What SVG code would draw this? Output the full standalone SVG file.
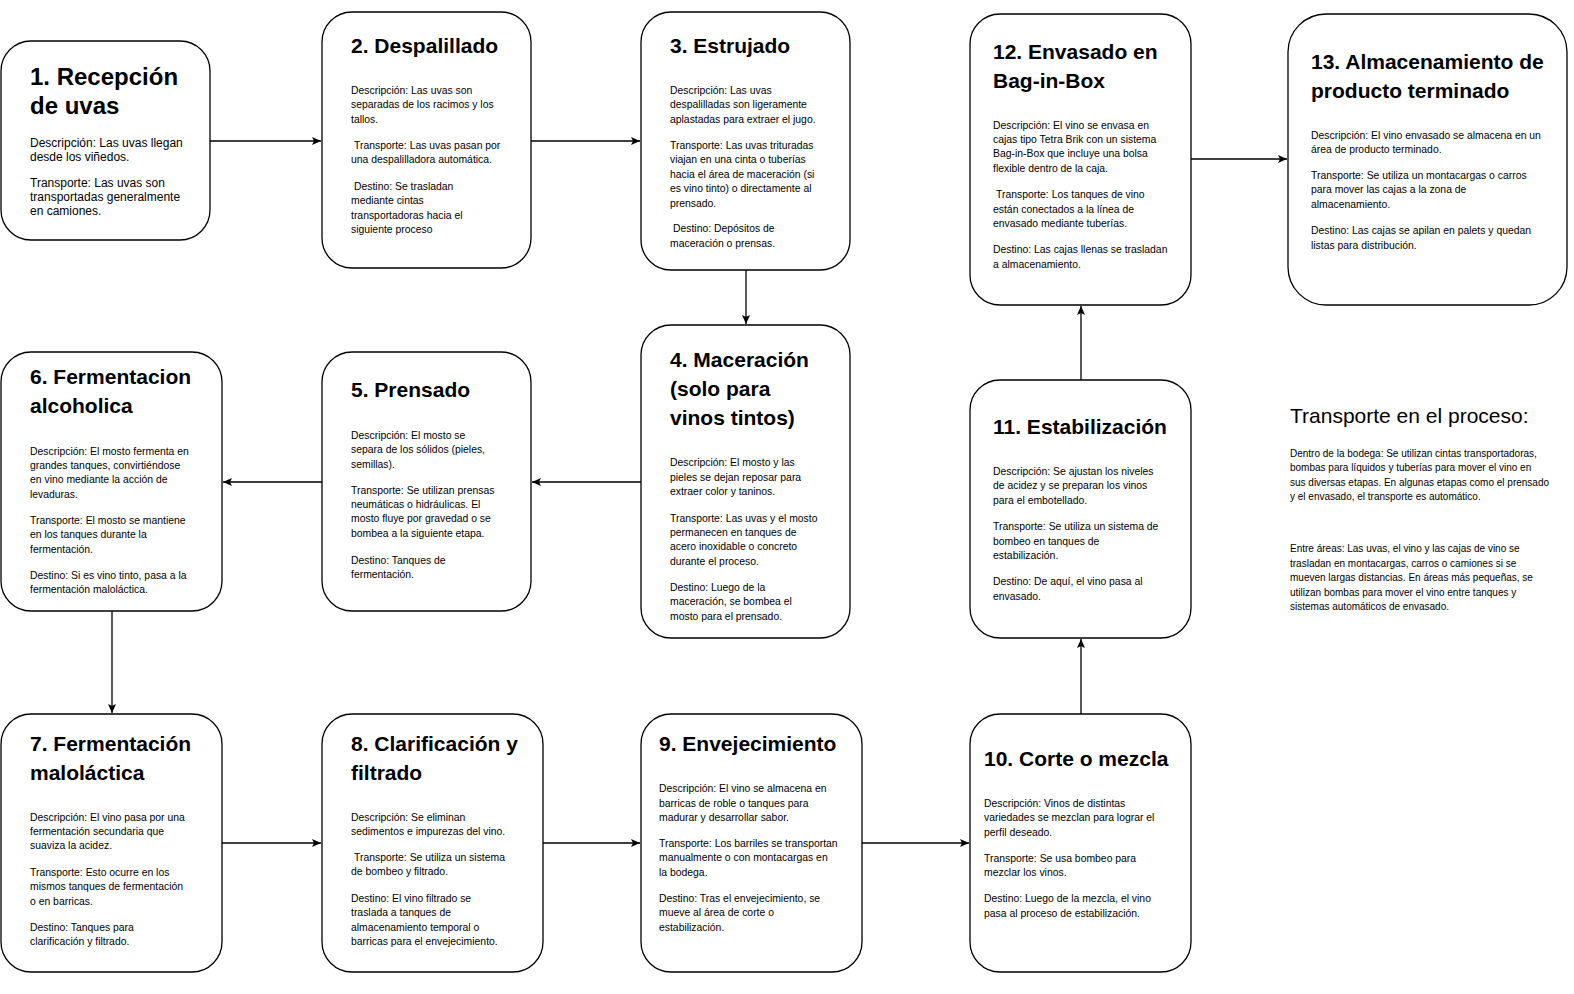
<svg xmlns="http://www.w3.org/2000/svg" width="1574" height="994" viewBox="0 0 1574 994">
<style>
.box{fill:#fff;stroke:#000;stroke-width:1.3}
.t{font-family:"Liberation Sans",Arial,sans-serif;font-weight:bold;font-size:21px;fill:#000}
.t1{font-family:"Liberation Sans",Arial,sans-serif;font-weight:bold;font-size:24px;fill:#000}
.b{font-family:"Liberation Sans",Arial,sans-serif;font-size:10.4px;fill:#000}
.n{font-family:"Liberation Sans",Arial,sans-serif;font-size:10px;fill:#000}
.b1{font-family:"Liberation Sans",Arial,sans-serif;font-size:12px;fill:#000}
.h{font-family:"Liberation Sans",Arial,sans-serif;font-size:21px;fill:#000}
.edge{fill:none;stroke:#000;stroke-width:1.3}
</style>
<defs>
<marker id="arr" markerWidth="10" markerHeight="8" refX="9" refY="4" orient="auto" markerUnits="userSpaceOnUse">
<path d="M0,0 L9,4 L0,8 L2,4 z" fill="#000"/>
</marker>
</defs>
<rect width="1574" height="994" fill="#fff"/>

<g id="connectors">
<path class="edge" d="M210,141 H321" marker-end="url(#arr)"/>
<path class="edge" d="M531,141 H640" marker-end="url(#arr)"/>
<path class="edge" d="M746,270 V324" marker-end="url(#arr)"/>
<path class="edge" d="M641,482 H532" marker-end="url(#arr)"/>
<path class="edge" d="M322,482 H223" marker-end="url(#arr)"/>
<path class="edge" d="M112,611 V713" marker-end="url(#arr)"/>
<path class="edge" d="M222,843 H321" marker-end="url(#arr)"/>
<path class="edge" d="M543,843 H640" marker-end="url(#arr)"/>
<path class="edge" d="M862,843 H969" marker-end="url(#arr)"/>
<path class="edge" d="M1081,714 V639" marker-end="url(#arr)"/>
<path class="edge" d="M1081,380 V306" marker-end="url(#arr)"/>
<path class="edge" d="M1191,159 H1287" marker-end="url(#arr)"/>
</g>

<g id="n1">
<rect class="box" x="1" y="41" width="209" height="199" rx="30"/>
<text class="t1"><tspan x="30" y="85">1. Recepción</tspan><tspan x="30" y="114">de uvas</tspan></text>
<text class="b1"><tspan x="30" y="147">Descripción: Las uvas llegan</tspan><tspan x="30" y="161">desde los viñedos.</tspan><tspan x="30" y="187">Transporte: Las uvas son</tspan><tspan x="30" y="201">transportadas generalmente</tspan><tspan x="30" y="215">en camiones.</tspan></text>
</g>

<g id="n2">
<rect class="box" x="322" y="12" width="209" height="256" rx="30"/>
<text class="t"><tspan x="351" y="53">2. Despalillado</tspan></text>
<text class="b"><tspan x="351" y="94">Descripción: Las uvas son</tspan><tspan x="351" y="108">separadas de los racimos y los</tspan><tspan x="351" y="123">tallos.</tspan><tspan x="354" y="149">Transporte: Las uvas pasan por</tspan><tspan x="351" y="163">una despalilladora automática.</tspan><tspan x="354" y="190">Destino: Se trasladan</tspan><tspan x="351" y="204">mediante cintas</tspan><tspan x="351" y="219">transportadoras hacia el</tspan><tspan x="351" y="233">siguiente proceso</tspan></text>
</g>

<g id="n3">
<rect class="box" x="641" y="12" width="209" height="258" rx="30"/>
<text class="t"><tspan x="670" y="53">3. Estrujado</tspan></text>
<text class="b"><tspan x="670" y="94">Descripción: Las uvas</tspan><tspan x="670" y="108">despalilladas son ligeramente</tspan><tspan x="670" y="123">aplastadas para extraer el jugo.</tspan><tspan x="670" y="149">Transporte: Las uvas trituradas</tspan><tspan x="670" y="163">viajan en una cinta o tuberías</tspan><tspan x="670" y="178">hacia el área de maceración (si</tspan><tspan x="670" y="192">es vino tinto) o directamente al</tspan><tspan x="670" y="207">prensado.</tspan><tspan x="673" y="232">Destino: Depósitos de</tspan><tspan x="670" y="247">maceración o prensas.</tspan></text>
</g>

<g id="n4">
<rect class="box" x="641" y="325" width="209" height="313" rx="30"/>
<text class="t"><tspan x="670" y="367">4. Maceración</tspan><tspan x="670" y="396">(solo para</tspan><tspan x="670" y="425">vinos tintos)</tspan></text>
<text class="b"><tspan x="670" y="466">Descripción: El mosto y las</tspan><tspan x="670" y="481">pieles se dejan reposar para</tspan><tspan x="670" y="495">extraer color y taninos.</tspan><tspan x="670" y="522">Transporte: Las uvas y el mosto</tspan><tspan x="670" y="536">permanecen en tanques de</tspan><tspan x="670" y="550">acero inoxidable o concreto</tspan><tspan x="670" y="565">durante el proceso.</tspan><tspan x="670" y="591">Destino: Luego de la</tspan><tspan x="670" y="605">maceración, se bombea el</tspan><tspan x="670" y="620">mosto para el prensado.</tspan></text>
</g>

<g id="n5">
<rect class="box" x="322" y="352" width="209" height="259" rx="30"/>
<text class="t"><tspan x="351" y="397">5. Prensado</tspan></text>
<text class="b"><tspan x="351" y="439">Descripción: El mosto se</tspan><tspan x="351" y="453">separa de los sólidos (pieles,</tspan><tspan x="351" y="468">semillas).</tspan><tspan x="351" y="494">Transporte: Se utilizan prensas</tspan><tspan x="351" y="508">neumáticas o hidráulicas. El</tspan><tspan x="351" y="522">mosto fluye por gravedad o se</tspan><tspan x="351" y="537">bombea a la siguiente etapa.</tspan><tspan x="351" y="564">Destino: Tanques de</tspan><tspan x="351" y="578">fermentación.</tspan></text>
</g>

<g id="n6">
<rect class="box" x="1" y="352" width="221" height="259" rx="30"/>
<text class="t"><tspan x="30" y="384">6. Fermentacion</tspan><tspan x="30" y="413">alcoholica</tspan></text>
<text class="b"><tspan x="30" y="455">Descripción: El mosto fermenta en</tspan><tspan x="30" y="469">grandes tanques, convirtiéndose</tspan><tspan x="30" y="483">en vino mediante la acción de</tspan><tspan x="30" y="498">levaduras.</tspan><tspan x="30" y="524">Transporte: El mosto se mantiene</tspan><tspan x="30" y="538">en los tanques durante la</tspan><tspan x="30" y="553">fermentación.</tspan><tspan x="30" y="579">Destino: Si es vino tinto, pasa a la</tspan><tspan x="30" y="593">fermentación maloláctica.</tspan></text>
</g>

<g id="n7">
<rect class="box" x="1" y="714" width="221" height="258" rx="30"/>
<text class="t"><tspan x="30" y="751">7. Fermentación</tspan><tspan x="30" y="780">maloláctica</tspan></text>
<text class="b"><tspan x="30" y="821">Descripción: El vino pasa por una</tspan><tspan x="30" y="835">fermentación secundaria que</tspan><tspan x="30" y="849">suaviza la acidez.</tspan><tspan x="30" y="876">Transporte: Esto ocurre en los</tspan><tspan x="30" y="890">mismos tanques de fermentación</tspan><tspan x="30" y="905">o en barricas.</tspan><tspan x="30" y="931">Destino: Tanques para</tspan><tspan x="30" y="945">clarificación y filtrado.</tspan></text>
</g>

<g id="n8">
<rect class="box" x="322" y="714" width="221" height="258" rx="30"/>
<text class="t"><tspan x="351" y="751">8. Clarificación y</tspan><tspan x="351" y="780">filtrado</tspan></text>
<text class="b"><tspan x="351" y="821">Descripción: Se eliminan</tspan><tspan x="351" y="835">sedimentos e impurezas del vino.</tspan><tspan x="354" y="861">Transporte: Se utiliza un sistema</tspan><tspan x="351" y="875">de bombeo y filtrado.</tspan><tspan x="351" y="902">Destino: El vino filtrado se</tspan><tspan x="351" y="916">traslada a tanques de</tspan><tspan x="351" y="931">almacenamiento temporal o</tspan><tspan x="351" y="945">barricas para el envejecimiento.</tspan></text>
</g>

<g id="n9">
<rect class="box" x="641" y="714" width="221" height="258" rx="30"/>
<text class="t"><tspan x="659" y="751">9. Envejecimiento</tspan></text>
<text class="b"><tspan x="659" y="792">Descripción: El vino se almacena en</tspan><tspan x="659" y="807">barricas de roble o tanques para</tspan><tspan x="659" y="821">madurar y desarrollar sabor.</tspan><tspan x="659" y="847">Transporte: Los barriles se transportan</tspan><tspan x="659" y="861">manualmente o con montacargas en</tspan><tspan x="659" y="876">la bodega.</tspan><tspan x="659" y="902">Destino: Tras el envejecimiento, se</tspan><tspan x="659" y="916">mueve al área de corte o</tspan><tspan x="659" y="931">estabilización.</tspan></text>
</g>

<g id="n10">
<rect class="box" x="970" y="714" width="221" height="258" rx="30"/>
<text class="t"><tspan x="984" y="766">10. Corte o mezcla</tspan></text>
<text class="b"><tspan x="984" y="807">Descripción: Vinos de distintas</tspan><tspan x="984" y="821">variedades se mezclan para lograr el</tspan><tspan x="984" y="836">perfil deseado.</tspan><tspan x="984" y="862">Transporte: Se usa bombeo para</tspan><tspan x="984" y="876">mezclar los vinos.</tspan><tspan x="984" y="902">Destino: Luego de la mezcla, el vino</tspan><tspan x="984" y="917">pasa al proceso de estabilización.</tspan></text>
</g>

<g id="n11">
<rect class="box" x="970" y="380" width="221" height="258" rx="30"/>
<text class="t"><tspan x="993" y="434">11. Estabilización</tspan></text>
<text class="b"><tspan x="993" y="475">Descripción: Se ajustan los niveles</tspan><tspan x="993" y="489">de acidez y se preparan los vinos</tspan><tspan x="993" y="504">para el embotellado.</tspan><tspan x="993" y="530">Transporte: Se utiliza un sistema de</tspan><tspan x="993" y="545">bombeo en tanques de</tspan><tspan x="993" y="559">estabilización.</tspan><tspan x="993" y="585">Destino: De aquí, el vino pasa al</tspan><tspan x="993" y="600">envasado.</tspan></text>
</g>

<g id="n12">
<rect class="box" x="970" y="14" width="221" height="291" rx="30"/>
<text class="t"><tspan x="993" y="59">12. Envasado en</tspan><tspan x="993" y="88">Bag-in-Box</tspan></text>
<text class="b"><tspan x="993" y="129">Descripción: El vino se envasa en</tspan><tspan x="993" y="143">cajas tipo Tetra Brik con un sistema</tspan><tspan x="993" y="157">Bag-in-Box que incluye una bolsa</tspan><tspan x="993" y="172">flexible dentro de la caja.</tspan><tspan x="996" y="198">Transporte: Los tanques de vino</tspan><tspan x="993" y="213">están conectados a la línea de</tspan><tspan x="993" y="227">envasado mediante tuberías.</tspan><tspan x="993" y="253">Destino: Las cajas llenas se trasladan</tspan><tspan x="993" y="268">a almacenamiento.</tspan></text>
</g>

<g id="n13">
<rect class="box" x="1288" y="14" width="279" height="291" rx="38"/>
<text class="t"><tspan x="1311" y="69">13. Almacenamiento de</tspan><tspan x="1311" y="98">producto terminado</tspan></text>
<text class="b"><tspan x="1311" y="139">Descripción: El vino envasado se almacena en un</tspan><tspan x="1311" y="153">área de producto terminado.</tspan><tspan x="1311" y="179">Transporte: Se utiliza un montacargas o carros</tspan><tspan x="1311" y="193">para mover las cajas a la zona de</tspan><tspan x="1311" y="208">almacenamiento.</tspan><tspan x="1311" y="234">Destino: Las cajas se apilan en palets y quedan</tspan><tspan x="1311" y="249">listas para distribución.</tspan></text>
</g>

<g id="note">
<text class="h"><tspan x="1290" y="423">Transporte en el proceso:</tspan></text>
<text class="n"><tspan x="1290" y="457">Dentro de la bodega: Se utilizan cintas transportadoras,</tspan><tspan x="1290" y="471">bombas para líquidos y tuberías para mover el vino en</tspan><tspan x="1290" y="486">sus diversas etapas. En algunas etapas como el prensado</tspan><tspan x="1290" y="500">y el envasado, el transporte es automático.</tspan><tspan x="1290" y="552">Entre áreas: Las uvas, el vino y las cajas de vino se</tspan><tspan x="1290" y="567">trasladan en montacargas, carros o camiones si se</tspan><tspan x="1290" y="581">mueven largas distancias. En áreas más pequeñas, se</tspan><tspan x="1290" y="596">utilizan bombas para mover el vino entre tanques y</tspan><tspan x="1290" y="610">sistemas automáticos de envasado.</tspan></text>
</g>
</svg>
